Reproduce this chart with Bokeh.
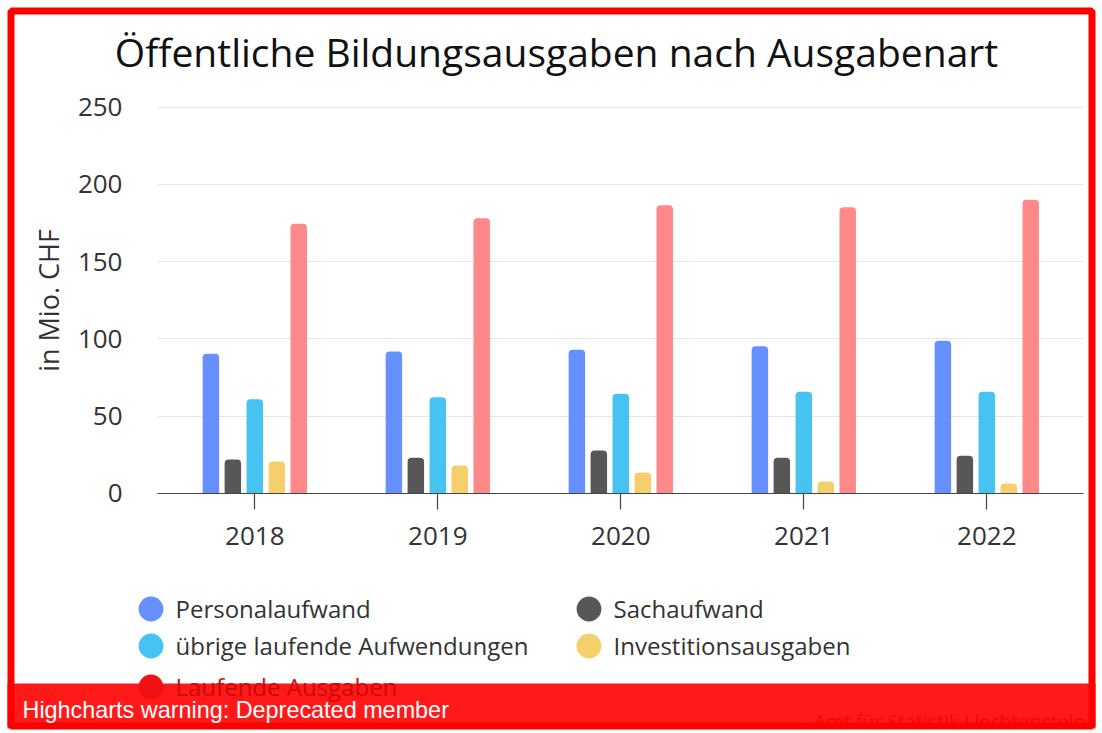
from bokeh.plotting import figure
from bokeh.models import (Range1d, Legend, LegendItem, BoxAnnotation, Label,
                          ColumnDataSource, FixedTicker)
from bokeh.transform import dodge
from bokeh.embed import file_html
from bokeh.resources import INLINE

years = ["2018", "2019", "2020", "2021", "2022"]
series_names = ["Personalaufwand", "Sachaufwand", "übrige laufende Aufwendungen",
                "Investitionsausgaben", "Laufende Ausgaben"]
personalaufwand = [90.3, 91.8, 92.9, 95.2, 98.7]
sachaufwand = [21.8, 22.9, 27.7, 22.9, 24.2]
uebrige = [60.9, 62.2, 64.4, 65.7, 65.7]
investitionen = [20.5, 17.9, 13.4, 7.6, 6.3]
laufende = [174.5, 178.1, 186.5, 185.2, 190.0]
y_ticks = [0, 50, 100, 150, 200, 250]

colors = ["#6690ff", "#575757", "#46c3f0", "#f5cf6b", "#ff8888"]
series_values = [personalaufwand, sachaufwand, uebrige, investitionen, laufende]

FONT = "Open Sans"
TXT = "#333333"
W, H = 1102, 733

# layout geometry (canvas pixels)
CAT_PX = 183.0        # pixels per category
CAT0_X = 254.3        # canvas x of first category centre
ZERO_Y = 492.7        # canvas y (from top) of value 0
VAL_PX = 1.544        # pixels per value unit
PLOT_L, PLOT_R = 157.0, 1083.0

def cx(px):
    return (px - CAT0_X) / CAT_PX

x_range = Range1d(cx(0), cx(W))
y_range = Range1d(-(H - ZERO_Y) / VAL_PX, ZERO_Y / VAL_PX)

p = figure(width=W, height=H, x_range=x_range, y_range=y_range,
           output_backend="svg", toolbar_location=None,
           min_border_left=0, min_border_right=0, min_border_top=0,
           min_border_bottom=0)
p.outline_line_color = None
p.background_fill_color = "white"
p.border_fill_color = "white"

idx = list(range(len(years)))
data = {"xi": idx}
for i, vals in enumerate(series_values):
    data[f"s{i}"] = vals
src = ColumnDataSource(data)

pitch = 0.12
offsets = [-2 * pitch, -pitch, 0, pitch, 2 * pitch]
for i in range(5):
    p.vbar(x=dodge("xi", offsets[i]), top=f"s{i}", width=0.09, source=src,
           fill_color=colors[i], line_color=None, border_radius=(4, 4, 0, 0))

# axes at fixed locations
xl, xr = cx(PLOT_L), cx(PLOT_R)
p.xaxis.fixed_location = 0
p.xaxis.bounds = (xl, xr)
p.xaxis.ticker = FixedTicker(ticks=idx)
p.xaxis.major_label_overrides = {i: y for i, y in zip(idx, years)}
p.xaxis.minor_tick_line_color = None
p.xaxis.axis_line_color = "#444444"
p.xaxis.axis_line_width = 1.2
p.xaxis.major_tick_line_color = "#444444"
p.xaxis.major_tick_line_width = 1.2
p.xaxis.major_tick_out = 16
p.xaxis.major_tick_in = 0
p.xaxis.major_label_text_font = FONT
p.xaxis.major_label_text_font_size = "26px"
p.xaxis.major_label_text_color = TXT
p.xaxis.major_label_standoff = 18

p.yaxis.fixed_location = xl
p.yaxis.bounds = (0, 250)
p.yaxis.ticker = FixedTicker(ticks=y_ticks)
p.yaxis.axis_line_color = None
p.yaxis.major_tick_line_color = None
p.yaxis.minor_tick_line_color = None
p.yaxis.major_label_text_font = FONT
p.yaxis.major_label_text_font_size = "26px"
p.yaxis.major_label_text_color = TXT
p.yaxis.major_label_standoff = 29
p.yaxis.axis_label = "in Mio. CHF"
p.yaxis.axis_label_text_font = FONT
p.yaxis.axis_label_text_font_size = "27px"
p.yaxis.axis_label_text_font_style = "normal"
p.yaxis.axis_label_text_color = TXT
p.yaxis.axis_label_standoff = 8

p.xgrid.visible = False
p.ygrid.bounds = (0, 250)
p.ygrid.cross_bounds = (xl, xr)
p.ygrid.grid_line_color = "#e6e6e6"
p.ygrid.grid_line_width = 1.2

# title
p.add_layout(Label(x=556, y=H - 51, x_units="screen", y_units="screen",
                   text="Öffentliche Bildungsausgaben nach Ausgabenart",
                   text_align="center", text_baseline="alphabetic",
                   text_font=FONT, text_font_size="39px", text_color="#111111"))

# legend glyph renderers (placed outside the visible range)
legend_renderers = []
for i in range(5):
    r = p.ellipse(x=[cx(-500)], y=[0], width=20, height=20,
                  width_units="screen", height_units="screen",
                  fill_color=colors[i], line_color=None)
    legend_renderers.append(r)

legend_style = dict(glyph_width=31, glyph_height=31, spacing=4, label_standoff=10,
                    label_width=393, label_text_font=FONT,
                    label_text_font_size="24px", background_fill_alpha=0,
                    border_line_color=None, padding=0, margin=0)

legend = Legend(items=[LegendItem(label=series_names[i], renderers=[legend_renderers[i]])
                       for i in range(4)],
                orientation="horizontal", ncols=2, location=(134.5, 71),
                label_text_color=TXT, **legend_style)
p.add_layout(legend)

# red outer border
p.add_layout(BoxAnnotation(left=10.5, right=1091.5, top=H - 10.5, bottom=H - 725.5,
                           left_units="screen", right_units="screen",
                           top_units="screen", bottom_units="screen",
                           fill_alpha=0, line_color="#ff0000", line_alpha=1.0,
                           line_width=7))

# credits (under the warning bar)
p.add_layout(Label(x=1085, y=H - 721, x_units="screen", y_units="screen",
                   text="Amt für Statistik Liechtenstein", text_align="right",
                   text_baseline="middle", text_font=FONT, text_font_size="19.5px",
                   text_color="#d01515"))

# warning bar
p.add_layout(BoxAnnotation(left=7, right=1095, top=H - 683, bottom=H - 728,
                           left_units="screen", right_units="screen",
                           top_units="screen", bottom_units="screen",
                           fill_color="#ff0000", fill_alpha=0.9, line_color=None))
p.add_layout(Label(x=22, y=H - 709, x_units="screen", y_units="screen",
                   text="Highcharts warning: Deprecated member", text_align="left",
                   text_baseline="middle", text_font="Liberation Sans",
                   text_font_size="23.4px", text_color="white"))

# last legend entry, seen through the semi-transparent warning bar
hidden = p.ellipse(x=[cx(-500)], y=[0], width=20, height=20,
                   width_units="screen", height_units="screen",
                   fill_color="#f01212", line_color=None)
legend_hidden = Legend(items=[LegendItem(label=series_names[4], renderers=[hidden])],
                       orientation="horizontal", location=(134.5, 30),
                       label_text_color="#cc0a0a", **legend_style)
p.add_layout(legend_hidden)

open("out.html", "w").write(file_html(p, INLINE))
